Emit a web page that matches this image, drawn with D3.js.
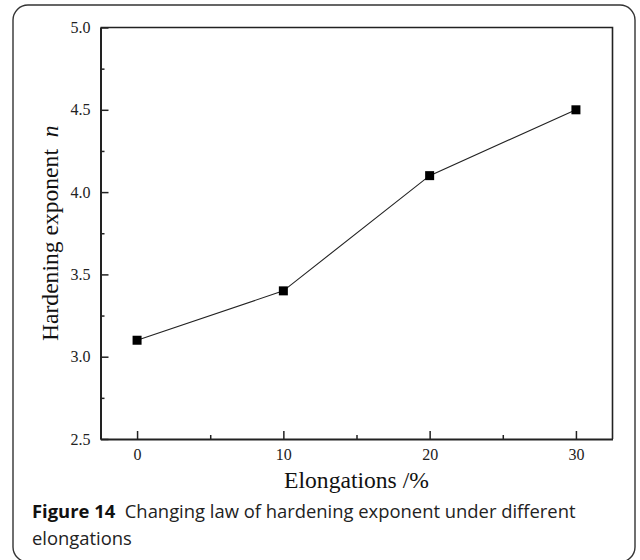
<!DOCTYPE html>
<html>
<head>
<meta charset="utf-8">
<script src="https://cdn.jsdelivr.net/npm/d3@7"></script>
<style>
  html, body { margin: 0; padding: 0; background: #fff; }
  svg { display: block; }
</style>
</head>
<body>
<svg id="chart" width="640" height="560"></svg>
<script>
// Hardening exponent n versus elongation
const elongations = [0, 10, 20, 30];
const hardeningN = [3.1, 3.4, 4.1, 4.5];
const xTickValues = [0, 10, 20, 30];
const xMinorTicks = [5, 15, 25];
const yTickValues = [2.5, 3.0, 3.5, 4.0, 4.5, 5.0];
const yMinorTicks = [2.75, 3.25, 3.75, 4.25, 4.75];

const svg = d3.select("#chart");
const serif = "'Liberation Serif', 'Times New Roman', serif";
const sans = "'Open Sans', 'Noto Sans', sans-serif";

// outer figure panel
svg.append("rect")
  .attr("x", 13).attr("y", 5)
  .attr("width", 622).attr("height", 557)
  .attr("rx", 15).attr("ry", 15)
  .attr("fill", "none").attr("stroke", "#333").attr("stroke-width", 1.4);

const plot = { left: 100.5, right: 612.5, top: 27.5, bottom: 439 };

const x = d3.scaleLinear().domain([-2.5, 32.5]).range([plot.left, plot.right]);
const y = d3.scaleLinear().domain([2.5, 5.0]).range([plot.bottom, plot.top]);

// frame (top and right)
svg.append("path")
  .attr("d", `M${plot.left},${plot.top}H${plot.right}V${plot.bottom}`)
  .attr("fill", "none").attr("stroke", "#222").attr("stroke-width", 1.6);

// y axis: inward ticks
const yAxis = svg.append("g")
  .attr("transform", `translate(${plot.left},0)`)
  .call(d3.axisLeft(y).tickValues(yTickValues).tickFormat(d3.format(".1f"))
    .tickSizeInner(-8).tickSizeOuter(0).tickPadding(10));
yAxis.select(".domain").attr("stroke", "#222").attr("stroke-width", 2);
yAxis.selectAll(".tick line").attr("stroke", "#222").attr("stroke-width", 1.5);
yAxis.selectAll(".tick text")
  .attr("font-family", serif).attr("font-size", 16).attr("fill", "#222");

svg.append("g")
  .attr("transform", `translate(${plot.left},0)`)
  .call(d3.axisLeft(y).tickValues(yMinorTicks).tickFormat("").tickSizeInner(-4).tickSizeOuter(0))
  .call(g => g.select(".domain").remove())
  .selectAll(".tick line").attr("stroke", "#222").attr("stroke-width", 1.5);

// x axis: inward ticks
const xAxis = svg.append("g")
  .attr("transform", `translate(0,${plot.bottom})`)
  .call(d3.axisBottom(x).tickValues(xTickValues).tickFormat(d3.format("d"))
    .tickSizeInner(-8).tickSizeOuter(0).tickPadding(10));
xAxis.select(".domain").attr("stroke", "#222").attr("stroke-width", 2);
xAxis.selectAll(".tick line").attr("stroke", "#222").attr("stroke-width", 1.5);
xAxis.selectAll(".tick text")
  .attr("font-family", serif).attr("font-size", 16).attr("fill", "#222");

svg.append("g")
  .attr("transform", `translate(0,${plot.bottom})`)
  .call(d3.axisBottom(x).tickValues(xMinorTicks).tickFormat("").tickSizeInner(-4).tickSizeOuter(0))
  .call(g => g.select(".domain").remove())
  .selectAll(".tick line").attr("stroke", "#222").attr("stroke-width", 1.5);

// data line and square markers
const pts = elongations.map((e, i) => ({ e, n: hardeningN[i] }));
svg.append("path")
  .datum(pts)
  .attr("d", d3.line().x(d => x(d.e)).y(d => y(d.n)))
  .attr("fill", "none").attr("stroke", "#222").attr("stroke-width", 1.1);

const sq = 9;
svg.append("g").selectAll("rect")
  .data(pts).join("rect")
  .attr("x", d => x(d.e) - sq / 2).attr("y", d => y(d.n) - sq / 2)
  .attr("width", sq).attr("height", sq)
  .attr("fill", "#000");

// axis titles
svg.append("text")
  .attr("x", (plot.left + plot.right) / 2).attr("y", 488)
  .attr("text-anchor", "middle")
  .attr("font-family", serif).attr("font-size", 23.6).attr("fill", "#111")
  .text("Elongations /%");

const yTitle = svg.append("text")
  .attr("transform", `translate(58,${(plot.top + plot.bottom) / 2}) rotate(-90)`)
  .attr("text-anchor", "middle")
  .attr("font-family", serif).attr("font-size", 23.6).attr("fill", "#111")
  .attr("xml:space", "preserve");
yTitle.append("tspan").text("Hardening exponent  ");
yTitle.append("tspan").attr("font-style", "italic").text("n");

// caption
const cap = svg.append("text")
  .attr("x", 32).attr("y", 518)
  .attr("font-family", sans).attr("font-size", 18.4).attr("fill", "#222")
  .attr("xml:space", "preserve");
cap.append("tspan").attr("font-weight", "bold").attr("fill", "#111").text("Figure 14");
cap.append("tspan").text("  Changing law of hardening exponent under different");
svg.append("text")
  .attr("x", 32).attr("y", 545)
  .attr("font-family", sans).attr("font-size", 18.4).attr("fill", "#222")
  .text("elongations");
</script>
</body>
</html>
